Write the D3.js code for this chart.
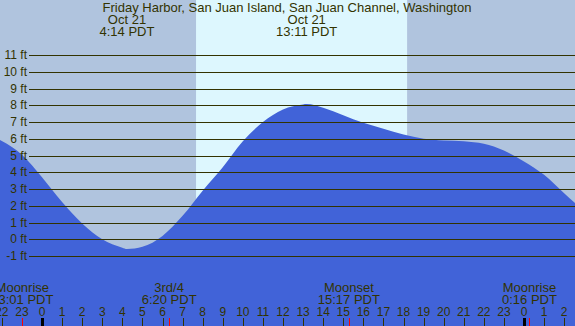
<!DOCTYPE html>
<html>
<head>
<meta charset="utf-8">
<script src="https://cdn.jsdelivr.net/npm/d3@7"></script>
<style>
  body { margin: 0; }
  svg { display: block; font-family: "Liberation Sans", Arial, sans-serif; }
</style>
</head>
<body>
<div id="chart"></div>
<script>
// tide heights (ft), hours relative to midnight Oct 21
const hours = [-2.1, -2, -1, 0, 1, 2, 3, 4, 4.23, 5, 6, 7, 8, 9, 10, 11, 12, 13, 13.18, 14, 15, 16, 17, 18, 19, 20, 21, 22, 23, 24, 25, 26, 26.6];
const heights = [5.93, 5.87, 5.05, 3.7, 2.22, 0.95, 0.0, -0.5, -0.58, -0.45, 0.2, 1.4, 2.9, 4.3, 5.85, 7.0, 7.75, 8.05, 8.07, 7.85, 7.4, 6.95, 6.6, 6.25, 6.0, 5.9, 5.85, 5.7, 5.3, 4.65, 3.85, 2.75, 2.1];

const yTicks = [-1, 0, 1, 2, 3, 4, 5, 6, 7, 8, 9, 10, 11];
const hourTicks = d3.range(-2, 27);

const sunrise = 7.67, sunset = 18.18;

const tideEvents = [
  {hour: 4.23, date: "Oct 21", time: "4:14 PDT"},
  {hour: 13.18, date: "Oct 21", time: "13:11 PDT"}
];
const moonEvents = [
  {hour: -0.98, name: "Moonrise", time: "23:01 PDT"},
  {hour: 6.33, name: "3rd/4", time: "6:20 PDT"},
  {hour: 15.28, name: "Moonset", time: "15:17 PDT"},
  {hour: 24.27, name: "Moonrise", time: "0:16 PDT"}
];

const title = "Friday Harbor, San Juan Island, San Juan Channel, Washington";

const width = 575, height = 326;
const ink = "#333300";

const x = d3.scaleLinear().domain([0, 24]).range([42, 524]);
const y = d3.scaleLinear().domain([0, 11]).range([239.3, 55]);

const svg = d3.select("#chart").append("svg")
    .attr("width", width)
    .attr("height", height);

svg.append("rect")
    .attr("width", width).attr("height", height)
    .attr("fill", "#b0c4de");

svg.append("rect")
    .attr("x", x(sunrise)).attr("y", 0)
    .attr("width", x(sunset) - x(sunrise)).attr("height", height)
    .attr("fill", "#ddf7fe");

const pts = hours.map((h, i) => [h, heights[i]]);

const area = d3.area()
    .x(d => x(d[0]))
    .y0(height)
    .y1(d => y(d[1]))
    .curve(d3.curveMonotoneX);

svg.append("path")
    .datum(pts)
    .attr("d", area)
    .attr("fill", "#4163d8");

// horizontal grid
svg.append("g").selectAll("line")
    .data(yTicks)
    .join("line")
    .attr("x1", 29).attr("x2", width)
    .attr("y1", d => Math.round(y(d)) + 0.5)
    .attr("y2", d => Math.round(y(d)) + 0.5)
    .attr("stroke", ink)
    .attr("stroke-width", 1);

svg.append("g").selectAll("text")
    .data(yTicks)
    .join("text")
    .attr("x", 27)
    .attr("y", d => y(d) + 4)
    .attr("text-anchor", "end")
    .attr("font-size", 12)
    .attr("fill", ink)
    .text(d => d + " ft");

// title and tide extremes
svg.append("text")
    .attr("x", 287).attr("y", 12)
    .attr("text-anchor", "middle")
    .attr("font-size", 13)
    .attr("fill", ink)
    .text(title);

const tl = svg.append("g").selectAll("g")
    .data(tideEvents)
    .join("g")
    .attr("transform", d => `translate(${x(d.hour)},0)`);
tl.append("text").attr("y", 24).text(d => d.date);
tl.append("text").attr("y", 36).text(d => d.time);
tl.selectAll("text")
    .attr("text-anchor", "middle")
    .attr("font-size", 13)
    .attr("fill", ink);

// moon events
const ml = svg.append("g").selectAll("g")
    .data(moonEvents)
    .join("g")
    .attr("transform", d => `translate(${x(d.hour)},0)`);
ml.append("text").attr("y", 292).text(d => d.name);
ml.append("text").attr("y", 304).text(d => d.time);
ml.selectAll("text")
    .attr("text-anchor", "middle")
    .attr("font-size", 13)
    .attr("fill", ink);

// hour axis
svg.append("g").selectAll("text")
    .data(hourTicks)
    .join("text")
    .attr("x", d => x(d))
    .attr("y", 316)
    .attr("text-anchor", "middle")
    .attr("font-size", 12)
    .attr("fill", ink)
    .text(d => ((d % 24) + 24) % 24);

svg.append("g").selectAll("line")
    .data(hourTicks)
    .join("line")
    .attr("x1", d => Math.round(x(d)) + 0.5)
    .attr("x2", d => Math.round(x(d)) + 0.5)
    .attr("y1", 318).attr("y2", height)
    .attr("stroke", d => d % 24 === 0 ? "#000" : ink)
    .attr("stroke-width", d => d % 24 === 0 ? 3 : 1);

svg.append("g").selectAll("line")
    .data(moonEvents)
    .join("line")
    .attr("x1", d => Math.round(x(d.hour)) + 0.5)
    .attr("x2", d => Math.round(x(d.hour)) + 0.5)
    .attr("y1", 318).attr("y2", height)
    .attr("stroke", "red");
</script>
</body>
</html>
